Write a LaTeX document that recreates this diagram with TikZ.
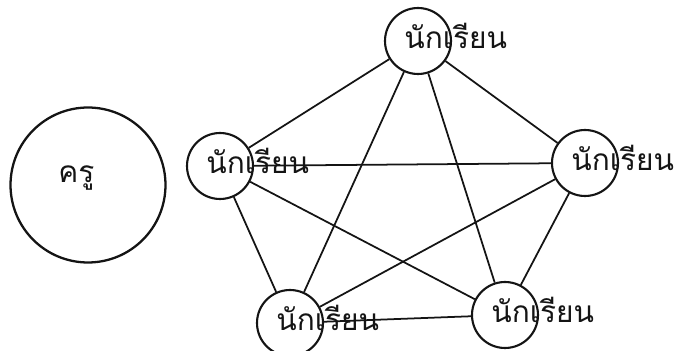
\documentclass[tikz,border=0pt]{standalone}
\usepackage{fontspec}
\newfontfamily\thaifont[Script=Thai]{Loma}
\usetikzlibrary{positioning}
\definecolor{Ink}{HTML}{141414}
\tikzset{
  pupil/.style={draw=Ink,circle,line width=1.2pt,minimum size=1.32cm,inner sep=0pt},
  tutor/.style={draw=Ink,circle,line width=1.3pt,minimum size=3.1cm,inner sep=0pt},
  word/.style={font=\thaifont\fontsize{17}{20}\selectfont,text=Ink,inner sep=0pt,anchor=base west},
  link/.style={draw=Ink,line width=1pt}
}
\begin{document}
\begin{tikzpicture}[x=0.02cm,y=-0.02cm]
  \useasboundingbox (0,0) rectangle (677,351);
  % teacher
  \node[tutor] (t) at (88,185) {};
  \node[word] (tw) at ([shift={(-30,-2)}]t.center) {ครู};
  % students
  \node[pupil] (s1) at (418,41) {};
  \node[pupil] (s2) at (585,163) {};
  \node[pupil] (s3) at (505,315) {};
  \node[pupil] (s4) at (290,323) {};
  \node[pupil] (s5) at (220,166) {};
  \foreach \s in {s1,s2,s3,s4,s5}
    \node[word] (\s w) at ([shift={(-14,8)}]\s.center) {นักเรียน};
  % everyone talks to everyone
  \draw[link] (s1) -- (s2);
  \draw[link] (s1) -- (s3);
  \draw[link] (s1) -- (s4);
  \draw[link] (s1) -- (s5);
  \draw[link] (s2) -- (s3);
  \draw[link] (s2) -- (s4);
  \draw[link] (s2) -- (s5);
  \draw[link] (s3) -- (s4);
  \draw[link] (s3) -- (s5);
  \draw[link] (s4) -- (s5);
\end{tikzpicture}
\end{document}
